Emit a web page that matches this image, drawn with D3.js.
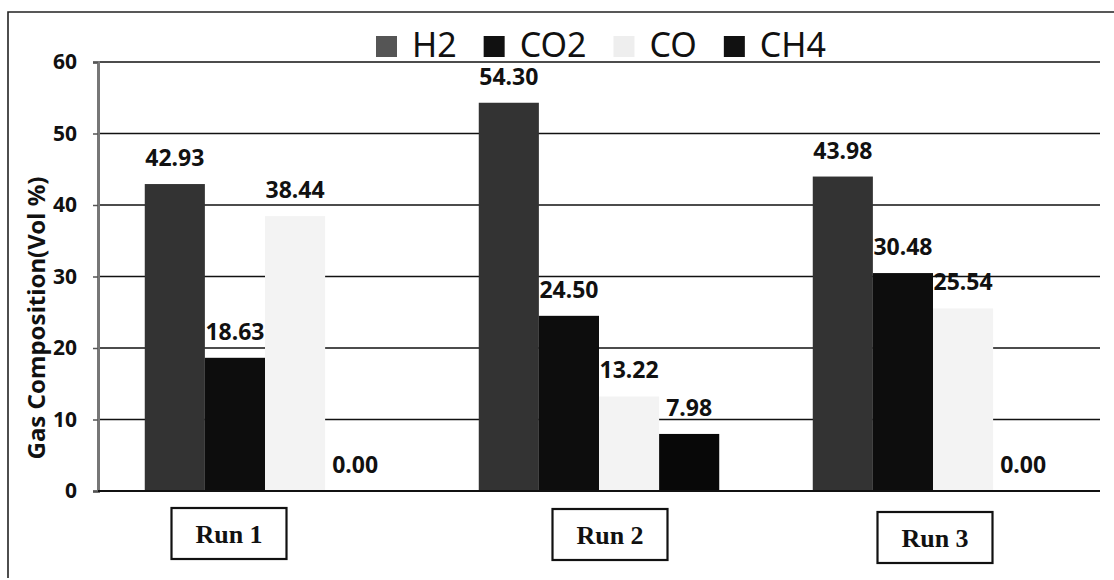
<!DOCTYPE html>
<html>
<head>
<meta charset="utf-8">
<script src="https://cdn.jsdelivr.net/npm/d3@7"></script>
<style>
  body { margin: 0; background: #fff; }
  svg { display: block; }
</style>
</head>
<body>
<script>
// chart data
var runs = ["Run 1", "Run 2", "Run 3"];
var gases = ["H2", "CO2", "CO", "CH4"];
var h2 = [42.93, 54.30, 43.98];
var co2 = [18.63, 24.50, 30.48];
var co = [38.44, 13.22, 25.54];
var ch4 = [0.00, 7.98, 0.00];
var yTicks = [0, 10, 20, 30, 40, 50, 60];

var series = [h2, co2, co, ch4];
var colors = {H2: "#333333", CO2: "#0d0d0d", CO: "#f3f3f3", CH4: "#080808"};
var legendColors = {H2: "#555555", CO2: "#111111", CO: "#eeeeee", CH4: "#111111"};

// layout
var W = 1114, H = 580;
var plot = {left: 98, right: 1100, top: 62, bottom: 491};
// the run label boxes are not exactly under their groups in the original
var boxShift = [[-36, 0], [11, 1], [2, 4]];

var svg = d3.select("body").append("svg")
    .attr("width", W)
    .attr("height", H);

// outer frame (left + top edges only)
svg.append("path")
    .attr("d", "M8,578 L8,12 L1114,12")
    .attr("fill", "none")
    .attr("stroke", "#222")
    .attr("stroke-width", 1.6);

var x0 = d3.scaleBand()
    .domain(runs)
    .range([plot.left, plot.right])
    .paddingInner(0.28)
    .paddingOuter(0.14);

var x1 = d3.scaleBand()
    .domain(gases)
    .range([0, x0.bandwidth()]);

var y = d3.scaleLinear()
    .domain([0, 60])
    .range([plot.bottom, plot.top]);

// gridlines
svg.append("g")
  .selectAll("line")
  .data(yTicks.filter(function(d) { return d > 0; }))
  .enter().append("line")
    .attr("x1", plot.left)
    .attr("x2", plot.right)
    .attr("y1", function(d) { return y(d); })
    .attr("y2", function(d) { return y(d); })
    .attr("stroke", "#111")
    .attr("stroke-width", 1.6);

// bars
var rows = [];
runs.forEach(function(r, i) {
  gases.forEach(function(g, j) {
    rows.push({run: r, gas: g, value: series[j][i], idx: i});
  });
});

var groups = svg.append("g");
groups.selectAll("rect")
    .data(rows)
  .enter().append("rect")
    .attr("x", function(d) { return x0(d.run) + x1(d.gas); })
    .attr("y", function(d) { return y(d.value); })
    .attr("width", x1.bandwidth())
    .attr("height", function(d) { return y(0) - y(d.value); })
    .attr("fill", function(d) { return colors[d.gas]; });

// value labels
groups.selectAll("text")
    .data(rows)
  .enter().append("text")
    .attr("x", function(d) { return x0(d.run) + x1(d.gas) + x1.bandwidth() / 2; })
    .attr("y", function(d) { return y(d.value) - 18; })
    .attr("text-anchor", "middle")
    .attr("font-family", "'Noto Sans', sans-serif")
    .attr("font-weight", "bold")
    .attr("font-size", 23)
    .attr("fill", "#111")
    .text(function(d) { return d.value.toFixed(2); });

// y axis
var yAxis = svg.append("g")
    .attr("transform", "translate(" + plot.left + ",0)")
    .call(d3.axisLeft(y).tickValues(yTicks).tickSize(5).tickPadding(16));
yAxis.select(".domain")
    .attr("stroke", "#777")
    .attr("stroke-width", 3);
yAxis.selectAll(".tick line").attr("stroke", "#555").attr("stroke-width", 1.5);
yAxis.selectAll(".tick text")
    .attr("font-family", "'Noto Sans', sans-serif")
    .attr("font-weight", "bold")
    .attr("font-size", 21)
    .attr("fill", "#111");

// baseline
svg.append("line")
    .attr("x1", plot.left)
    .attr("x2", plot.right)
    .attr("y1", y(0))
    .attr("y2", y(0))
    .attr("stroke", "#111")
    .attr("stroke-width", 2);

// y axis title
svg.append("text")
    .attr("transform", "translate(45," + 318 + ") rotate(-90)")
    .attr("text-anchor", "middle")
    .attr("font-family", "'Noto Sans', sans-serif")
    .attr("font-weight", "bold")
    .attr("font-size", 24)
    .attr("fill", "#111")
    .text("Gas Composition(Vol %)");

// run label boxes
var boxW = 115, boxH = 51;
var boxes = svg.append("g").selectAll("g")
    .data(runs)
  .enter().append("g")
    .attr("transform", function(d, i) {
      var cx = x0(d) + x0.bandwidth() / 2 + boxShift[i][0];
      return "translate(" + (cx - boxW / 2) + "," + (508 + boxShift[i][1]) + ")";
    });
boxes.append("rect")
    .attr("width", boxW)
    .attr("height", boxH)
    .attr("fill", "#fff")
    .attr("stroke", "#111")
    .attr("stroke-width", 2.2);
boxes.append("text")
    .attr("x", boxW / 2)
    .attr("y", boxH / 2 + 9)
    .attr("text-anchor", "middle")
    .attr("font-family", "'Liberation Serif', 'Times New Roman', serif")
    .attr("font-weight", "bold")
    .attr("font-size", 26)
    .attr("fill", "#111")
    .text(function(d) { return d; });

// legend
var legend = svg.append("g").attr("transform", "translate(376,0)");
var lx = 0;
gases.forEach(function(g) {
  legend.append("rect")
      .attr("x", lx)
      .attr("y", 36)
      .attr("width", 21)
      .attr("height", 21)
      .attr("fill", legendColors[g]);
  var t = legend.append("text")
      .attr("x", lx + 36)
      .attr("y", 57)
      .attr("font-family", "'Noto Sans', sans-serif")
      .attr("font-size", 34)
      .attr("fill", "#111")
      .text(g);
  lx += 36 + t.node().getComputedTextLength() + 27;
});
</script>
</body>
</html>
